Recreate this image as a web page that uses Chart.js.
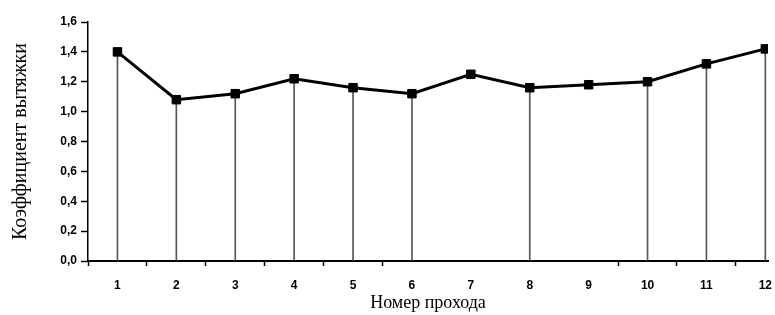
<!DOCTYPE html>
<html>
<head>
<meta charset="utf-8">
<script src="https://cdn.jsdelivr.net/npm/chart.js@4/dist/chart.umd.min.js"></script>
<style>
  html, body { margin: 0; padding: 0; background: #fff; overflow: hidden; }
  #wrap { width: 775px; height: 315px; position: relative; }
</style>
</head>
<body>
<div id="wrap"><canvas id="chart"></canvas></div>
<script>
// номера проходов и коэффициенты вытяжки
const passes = [1, 2, 3, 4, 5, 6, 7, 8, 9, 10, 11, 12];
const coefficients = [1.40, 1.08, 1.12, 1.22, 1.16, 1.12, 1.25, 1.16, 1.18, 1.20, 1.32, 1.42];
// вертикальные линии к оси (у 7 и 9 их нет)
const dropLineShown = [true, true, true, true, true, true, false, true, false, true, true, true];
// метки по оси X между номерами
const xTickMarks = [0.5, 1.5, 2.5, 3.5, 4.5, 5.5, 9.5, 10.5, 11.5];
const yTicks = [0, 0.2, 0.4, 0.6, 0.8, 1.0, 1.2, 1.4, 1.6];

const linePoints = passes.map((p, i) => ({ x: p, y: coefficients[i] }));
const dropPoints = passes.map((p, i) => ({ x: p, y: dropLineShown[i] ? coefficients[i] : null }));

const ctx = document.getElementById('chart').getContext('2d');
new Chart(ctx, {
    type: 'line',
    data: {
        datasets: [{
            type: 'line',
            data: linePoints,
            borderColor: '#000',
            borderWidth: 3,
            pointStyle: 'rect',
            pointRadius: 6,
            pointBackgroundColor: '#000',
            pointBorderColor: '#000',
            pointBorderWidth: 1,
            tension: 0,
            order: 0
        }, {
            type: 'bar',
            data: dropPoints,
            backgroundColor: '#555',
            barThickness: 1,
            order: 1
        }]
    },
    options: {
        responsive: true,
        maintainAspectRatio: false,
        animation: false,
        layout: { padding: { top: 22, right: 0, left: 0, bottom: 0 } },
        plugins: {
            legend: { display: false },
            tooltip: { enabled: false }
        },
        scales: {
            x: {
                type: 'linear',
                offset: false,
                min: 0.5,
                max: 12.045,
                afterBuildTicks: scale => {
                    scale.ticks = passes.concat(xTickMarks).sort((a, b) => a - b).map(v => ({ value: v }));
                },
                afterFit: scale => {
                    scale.height = 54;
                    scale.paddingLeft = 0;
                    scale.paddingRight = 0;
                },
                ticks: {
                    autoSkip: false,
                    maxRotation: 0,
                    padding: 12,
                    color: '#000',
                    font: { family: 'Liberation Sans, Arial', size: 12, weight: 'bold' },
                    callback: v => Number.isInteger(v) ? String(v) : ''
                },
                grid: {
                    offset: false,
                    drawOnChartArea: false,
                    color: 'transparent',
                    tickLength: 5,
                    tickWidth: 1.5,
                    tickColor: c => (c.tick && Number.isInteger(c.tick.value)) ? 'transparent' : '#000'
                },
                border: { display: true, color: '#000', width: 2 },
                title: {
                    display: true,
                    text: 'Номер прохода',
                    color: '#000',
                    font: { family: 'Liberation Serif, Times New Roman', size: 18 },
                    padding: { top: 0, bottom: 1 }
                }
            },
            y: {
                min: 0,
                max: 1.6,
                afterBuildTicks: scale => {
                    scale.ticks = yTicks.map(v => ({ value: v }));
                },
                afterFit: scale => { scale.width = 88; },
                ticks: {
                    padding: 4,
                    color: '#000',
                    font: { family: 'Liberation Sans, Arial', size: 12, weight: 'bold' },
                    callback: v => v.toFixed(1).replace('.', ',')
                },
                grid: {
                    drawOnChartArea: false,
                    tickLength: 7,
                    tickWidth: 1.5,
                    tickColor: '#000'
                },
                border: { display: true, color: '#000', width: 1.5 },
                title: {
                    display: true,
                    text: 'Коэффициент вытяжки',
                    color: '#000',
                    font: { family: 'Liberation Serif, Times New Roman', size: 20 },
                    padding: { top: 9, bottom: 0 }
                }
            }
        }
    }
});
</script>
</body>
</html>
